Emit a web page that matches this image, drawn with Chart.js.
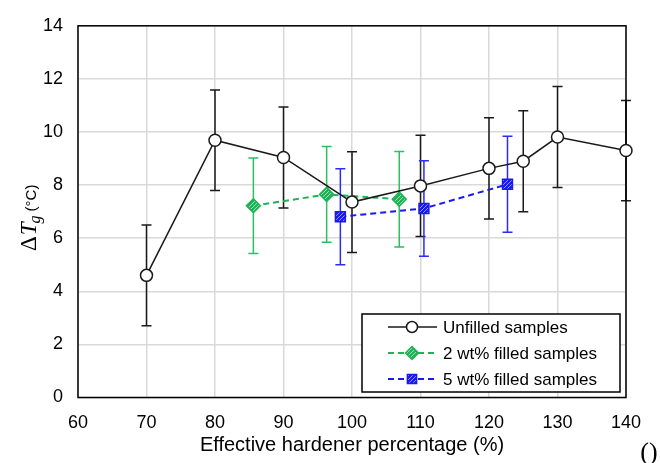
<!DOCTYPE html>
<html>
<head>
<meta charset="utf-8">
<script src="https://cdn.jsdelivr.net/npm/chart.js@4"></script>
<style>
  html, body { margin: 0; padding: 0; background: #fff; }
  #wrap { width: 660px; height: 463px; position: relative; }
</style>
</head>
<body>
<div id="wrap"><canvas id="tgChart" width="660" height="463"></canvas></div>
<script>
// values
const unfilledPct = [70, 80, 90, 100, 110, 120, 125, 130, 140];
const unfilledDTg = [4.6, 9.69, 9.04, 7.36, 7.97, 8.63, 8.9, 9.81, 9.3];
const unfilledErr = [1.9, 1.89, 1.9, 1.9, 1.91, 1.91, 1.9, 1.9, 1.89];

const filled2Pct = [85.6, 96.3, 106.9];
const filled2DTg = [7.22, 7.65, 7.47];
const filled2Err = [1.8, 1.8, 1.8];

const filled5Pct = [98.3, 110.5, 122.7];
const filled5DTg = [6.81, 7.12, 8.03];
const filled5Err = [1.81, 1.8, 1.81];

const seriesLabels = ["Unfilled samples", "2 wt% filled samples", "5 wt% filled samples"];

const GREEN = "#1fb257";
const BLUE = "#1a1aee";

// hatched marker fill
function hatch(base) {
  const c = document.createElement("canvas");
  c.width = 4; c.height = 4;
  const g = c.getContext("2d");
  g.fillStyle = base;
  g.fillRect(0, 0, 4, 4);
  g.strokeStyle = "rgba(255,255,255,0.55)";
  g.lineWidth = 1;
  g.beginPath();
  g.moveTo(0, 4); g.lineTo(4, 0);
  g.moveTo(-1, 1); g.lineTo(1, -1);
  g.moveTo(3, 5); g.lineTo(5, 3);
  g.stroke();
  return g.createPattern(c, "repeat");
}

const pts = (xs, ys) => xs.map((x, i) => ({ x: x, y: ys[i] }));

// error bars drawn under the markers
const errorBars = {
  id: "errorBars",
  beforeDatasetsDraw(chart) {
    const ctx = chart.ctx;
    const y = chart.scales.y;
    chart.data.datasets.forEach((ds, i) => {
      const meta = chart.getDatasetMeta(i);
      ctx.save();
      ctx.strokeStyle = ds.errColor;
      ctx.lineWidth = 1.5;
      meta.data.forEach((pt, j) => {
        const v = ds.data[j].y;
        const e = ds.err[j];
        const top = y.getPixelForValue(v + e);
        const bot = y.getPixelForValue(v - e);
        ctx.beginPath();
        ctx.moveTo(pt.x, top); ctx.lineTo(pt.x, bot);
        ctx.moveTo(pt.x - 5, top); ctx.lineTo(pt.x + 5, top);
        ctx.moveTo(pt.x - 5, bot); ctx.lineTo(pt.x + 5, bot);
        ctx.stroke();
      });
      ctx.restore();
    });
  }
};

// plot frame, legend box, y title, corner text
const decorations = {
  id: "decorations",
  beforeDatasetsDraw(chart) {
    const { ctx, chartArea: a } = chart;
    ctx.save();
    ctx.strokeStyle = "#000";
    ctx.lineWidth = 1.5;
    ctx.strokeRect(a.left, a.top, a.right - a.left, a.bottom - a.top);
    ctx.restore();
  },
  afterDraw(chart) {
    const ctx = chart.ctx;
    // legend
    const bx = 362, by = 314, bw = 258, bh = 78;
    ctx.save();
    ctx.fillStyle = "#fff";
    ctx.fillRect(bx, by, bw, bh);
    ctx.strokeStyle = "#000";
    ctx.lineWidth = 1.5;
    ctx.strokeRect(bx, by, bw, bh);
    const rows = [327, 353, 379];
    chart.data.datasets.forEach((ds, i) => {
      const yy = rows[i];
      ctx.save();
      ctx.strokeStyle = ds.borderColor;
      ctx.lineWidth = ds.borderWidth;
      ctx.setLineDash(ds.borderDash || []);
      ctx.beginPath();
      ctx.moveTo(388, yy); ctx.lineTo(437, yy);
      ctx.stroke();
      ctx.setLineDash([]);
      ctx.fillStyle = ds.pointBackgroundColor;
      ctx.strokeStyle = ds.pointBorderColor;
      ctx.lineWidth = ds.pointBorderWidth;
      Chart.helpers.drawPoint(ctx, {
        pointStyle: ds.pointStyle, radius: ds.pointRadius - 0.5,
        rotation: 0, borderWidth: ds.pointBorderWidth
      }, 412, yy);
      ctx.restore();
      ctx.fillStyle = "#000";
      ctx.font = '17px "Liberation Sans", Arial, sans-serif';
      ctx.textBaseline = "middle";
      ctx.textAlign = "left";
      ctx.fillText(ds.label, 443, yy + 1);
    });
    ctx.restore();

    // y axis title: ΔT_g (°C)
    ctx.save();
    ctx.translate(36, 251);
    ctx.rotate(-Math.PI / 2);
    ctx.fillStyle = "#000";
    ctx.textBaseline = "alphabetic";
    ctx.textAlign = "left";
    let x = 0;
    ctx.font = '23px "Liberation Serif", "Times New Roman", serif';
    ctx.fillText("\u0394", x, 0);
    x += ctx.measureText("\u0394").width + 1;
    ctx.font = 'italic 23px "Liberation Serif", "Times New Roman", serif';
    ctx.fillText("T", x, 0);
    x += ctx.measureText("T").width - 1;
    ctx.font = 'italic 16px "Liberation Serif", "Times New Roman", serif';
    ctx.fillText("g", x, 4);
    x += ctx.measureText("g").width + 4;
    ctx.font = '15px "Liberation Sans", Arial, sans-serif';
    ctx.fillText("(\u00b0C)", x, 0);
    ctx.restore();

    // stray parentheses in the lower right corner
    ctx.save();
    ctx.fillStyle = "#000";
    ctx.font = '26px "Liberation Serif", "Times New Roman", serif';
    ctx.textAlign = "center";
    ctx.textBaseline = "alphabetic";
    ctx.fillText("()", 649, 460);
    ctx.restore();
  }
};

const tickFont = { family: '"Liberation Sans", Arial, sans-serif', size: 18 };

new Chart(document.getElementById("tgChart"), {
  type: "scatter",
  data: {
    datasets: [
      {
        label: seriesLabels[0],
        data: pts(unfilledPct, unfilledDTg),
        err: unfilledErr,
        errColor: "#1a1a1a",
        showLine: true,
        borderColor: "#1a1a1a",
        borderWidth: 1.5,
        pointStyle: "circle",
        pointRadius: 6,
        pointBackgroundColor: "#fff",
        pointBorderColor: "#1a1a1a",
        pointBorderWidth: 1.5,
        order: 0
      },
      {
        label: seriesLabels[1],
        data: pts(filled2Pct, filled2DTg),
        err: filled2Err,
        errColor: "#2cbf63",
        showLine: true,
        borderColor: GREEN,
        borderWidth: 2,
        borderDash: [6, 4],
        pointStyle: "rectRot",
        pointRadius: 7,
        pointBackgroundColor: hatch(GREEN),
        pointBorderColor: GREEN,
        pointBorderWidth: 1.5,
        order: 1
      },
      {
        label: seriesLabels[2],
        data: pts(filled5Pct, filled5DTg),
        err: filled5Err,
        errColor: "#2b2bff",
        showLine: true,
        borderColor: BLUE,
        borderWidth: 2,
        borderDash: [6, 4],
        pointStyle: "rect",
        pointRadius: 7,
        pointBackgroundColor: hatch(BLUE),
        pointBorderColor: BLUE,
        pointBorderWidth: 1.5,
        order: 2
      }
    ]
  },
  options: {
    responsive: false,
    animation: false,
    clip: false,
    layout: { padding: { left: 0, right: 34, top: 23, bottom: 0 } },
    plugins: { legend: { display: false }, tooltip: { enabled: false } },
    scales: {
      x: {
        type: "linear",
        min: 60, max: 140,
        afterFit: (s) => { s.height = 65.5; },
        grid: { color: "#d9d9d9", lineWidth: 1.5, drawTicks: false },
        border: { display: false },
        ticks: { stepSize: 10, padding: 15, color: "#000", font: tickFont },
        title: {
          display: true,
          text: "Effective hardener percentage (%)",
          color: "#000",
          font: { family: '"Liberation Sans", Arial, sans-serif', size: 20 },
          padding: { top: 0, bottom: 6 }
        }
      },
      y: {
        min: 0, max: 14,
        afterFit: (s) => { s.width = 78; },
        grid: { color: "#d9d9d9", lineWidth: 1.5, drawTicks: false },
        border: { display: false },
        ticks: { stepSize: 2, padding: 15, color: "#000", font: tickFont }
      }
    }
  },
  plugins: [errorBars, decorations]
});
</script>
</body>
</html>
